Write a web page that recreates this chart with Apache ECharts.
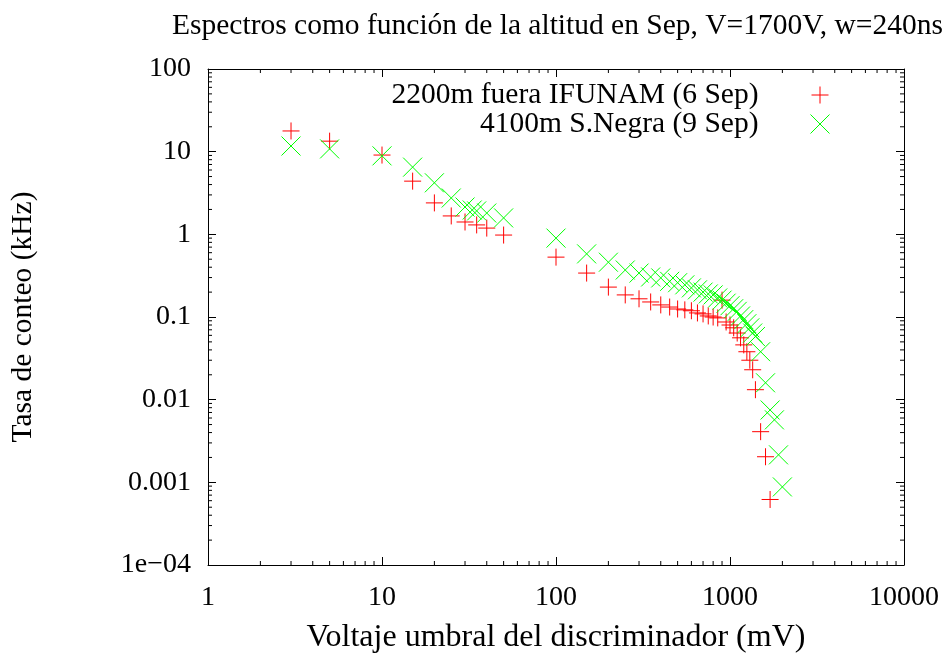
<!DOCTYPE html>
<html><head><meta charset="utf-8">
<script src="https://cdn.jsdelivr.net/npm/echarts@6/dist/echarts.min.js"></script>
<style>html,body{margin:0;padding:0;background:#fff}#c{width:947px;height:653px}</style>
</head><body><div id="c"></div>
<script>
const titleText = 'Espectros como función de la altitud en Sep, V=1700V, w=240ns';
const xName = 'Voltaje umbral del discriminador (mV)';
const yName = 'Tasa de conteo (kHz)';
const seriesNames = ['2200m fuera IFUNAM (6 Sep)', '4100m S.Negra (9 Sep)'];
const xTickLabels = ['1', '10', '100', '1000', '10000'];
const yTickLabels = ['1e\u221204', '0.001', '0.01', '0.1', '1', '10', '100'];

const redX = [3, 5, 10, 15, 20, 25, 30, 35, 40, 50, 100, 150, 200, 250, 300, 350, 400, 450, 500, 550, 600, 650, 700, 750, 800, 850, 900, 950, 1000, 1050, 1100, 1150, 1200, 1250, 1300, 1350, 1400, 1500, 1600, 1700];
const redY = [17.8, 13.4, 9.1, 4.4, 2.4, 1.67, 1.41, 1.30, 1.19, 0.98, 0.53, 0.34, 0.23, 0.185, 0.166, 0.152, 0.14, 0.132, 0.125, 0.122, 0.119, 0.112, 0.109, 0.103, 0.1, 0.0975, 0.16, 0.087, 0.080, 0.074, 0.064, 0.056, 0.046, 0.038, 0.030, 0.023, 0.0132, 0.0041, 0.00204, 0.00062];

const greenX = [3, 5, 10, 15, 20, 25, 30, 33, 35, 40, 50, 100, 150, 200, 250, 300, 350, 400, 450, 500, 550, 600, 650, 700, 750, 800, 850, 900, 950, 1000, 1050, 1100, 1150, 1200, 1250, 1300, 1350, 1400, 1500, 1600, 1700, 1800, 1900, 2000];
const greenY = [11.7, 10.8, 8.9, 6.5, 4.2, 2.75, 2.14, 1.97, 1.92, 1.81, 1.58, 0.90, 0.58, 0.46, 0.37, 0.34, 0.305, 0.297, 0.27, 0.26, 0.245, 0.225, 0.213, 0.20, 0.19, 0.185, 0.17, 0.16, 0.147, 0.137, 0.126, 0.117, 0.103, 0.093, 0.083, 0.074, 0.064, 0.058, 0.038, 0.016, 0.0075, 0.0057, 0.00215, 0.00088];

const X_MIN = 1, X_MAX = 10000, Y_MIN = 1e-4, Y_MAX = 100;
const FONT = 'Liberation Serif';
const PLUS = 'path://M0,5L10,5M5,0L5,10';
const CROSS = 'path://M0,0L10,10M0,10L10,0';

function minorTicks(lo, hi) {
  const out = [];
  for (let d = lo; d < hi; d *= 10) for (let k = 2; k <= 9; k++) out.push(d * k);
  return out;
}
const xMinor = minorTicks(X_MIN, X_MAX);
const yMinor = minorTicks(Y_MIN, Y_MAX);

const chart = echarts.init(document.getElementById('c'), null, {renderer: 'canvas'});
const axisCommon = {
  type: 'log', logBase: 10, interval: 1,
  axisLine: {show: true, onZero: false, lineStyle: {color: '#000', width: 1}},
  axisTick: {show: true, inside: true, length: 8, lineStyle: {color: '#000', width: 1}},
  splitLine: {show: false}, minorTick: {show: false}
};
const txt = size => ({fontFamily: FONT, fontSize: size, color: '#000'});

function pair(xs, ys) { return xs.map((x, i) => [x, ys[i]]); }

chart.setOption({
  animation: false,
  backgroundColor: '#fff',
  title: {text: titleText, left: 167, top: 6, textStyle: Object.assign({fontWeight: 'normal'}, txt(29.5))},
  grid: {left: 208, right: 43, top: 69, bottom: 88, containLabel: false, outerBoundsMode: 'none'},
  legend: [
    {data: [{name: seriesNames[0], icon: PLUS, itemStyle: {color: 'transparent', borderColor: '#ff0000', borderWidth: 1}}],
     orient: 'vertical', align: 'right', right: 113, top: 75, itemWidth: 17, itemHeight: 17,
     textStyle: Object.assign({padding: [0, 48, 0, 0]}, txt(29.5)), selectedMode: false},
    {data: [{name: seriesNames[1], icon: CROSS, itemStyle: {color: 'transparent', borderColor: '#00ff00', borderWidth: 1}}],
     orient: 'vertical', align: 'right', right: 112, top: 104, itemWidth: 19, itemHeight: 19,
     textStyle: Object.assign({padding: [0, 47, 0, 0]}, txt(29.5)), selectedMode: false}
  ],
  xAxis: [
    Object.assign({}, axisCommon, {min: X_MIN, max: X_MAX, position: 'bottom',
      name: xName, nameLocation: 'middle', nameGap: 57, nameTextStyle: txt(32),
      axisLabel: Object.assign({margin: 19, formatter: v => xTickLabels[Math.round(Math.log10(v))]}, txt(28))}),
    Object.assign({}, axisCommon, {min: X_MIN, max: X_MAX, position: 'top', axisLabel: {show: false}})
  ],
  yAxis: [
    Object.assign({}, axisCommon, {min: Y_MIN, max: Y_MAX, position: 'left',
      name: yName, nameLocation: 'middle', nameGap: 170, nameRotate: 90, nameTextStyle: txt(29.5),
      axisLabel: Object.assign({margin: 17, formatter: v => yTickLabels[Math.round(Math.log10(v)) + 4]}, txt(28))}),
    Object.assign({}, axisCommon, {min: Y_MIN, max: Y_MAX, position: 'right', axisLabel: {show: false}})
  ],
  series: [
    {type: 'custom', silent: true, xAxisIndex: 0, yAxisIndex: 0, data: xMinor.map(v => [v, Y_MIN]),
     renderItem: (p, api) => {
       const v = api.value(0);
       const a = api.coord([v, Y_MIN]), b = api.coord([v, Y_MAX]);
       return {type: 'group', children: [
         {type: 'line', shape: {x1: a[0], y1: a[1], x2: a[0], y2: a[1] - 4}, style: {stroke: '#000', lineWidth: 1}},
         {type: 'line', shape: {x1: b[0], y1: b[1], x2: b[0], y2: b[1] + 4}, style: {stroke: '#000', lineWidth: 1}}
       ]};
     }},
    {type: 'custom', silent: true, xAxisIndex: 0, yAxisIndex: 0, data: yMinor.map(v => [X_MIN, v]),
     renderItem: (p, api) => {
       const v = api.value(1);
       const a = api.coord([X_MIN, v]), b = api.coord([X_MAX, v]);
       return {type: 'group', children: [
         {type: 'line', shape: {x1: a[0], y1: a[1], x2: a[0] + 4, y2: a[1]}, style: {stroke: '#000', lineWidth: 1}},
         {type: 'line', shape: {x1: b[0], y1: b[1], x2: b[0] - 4, y2: b[1]}, style: {stroke: '#000', lineWidth: 1}}
       ]};
     }},
    {name: seriesNames[0], type: 'scatter', data: pair(redX, redY), symbol: PLUS, symbolSize: 17,
     itemStyle: {color: 'transparent', borderColor: '#ff0000', borderWidth: 1, opacity: 1},
     emphasis: {disabled: true}},
    {name: seriesNames[1], type: 'scatter', data: pair(greenX, greenY), symbol: CROSS, symbolSize: 19,
     itemStyle: {color: 'transparent', borderColor: '#00ff00', borderWidth: 1, opacity: 1},
     emphasis: {disabled: true}}
  ]
});
</script></body></html>
